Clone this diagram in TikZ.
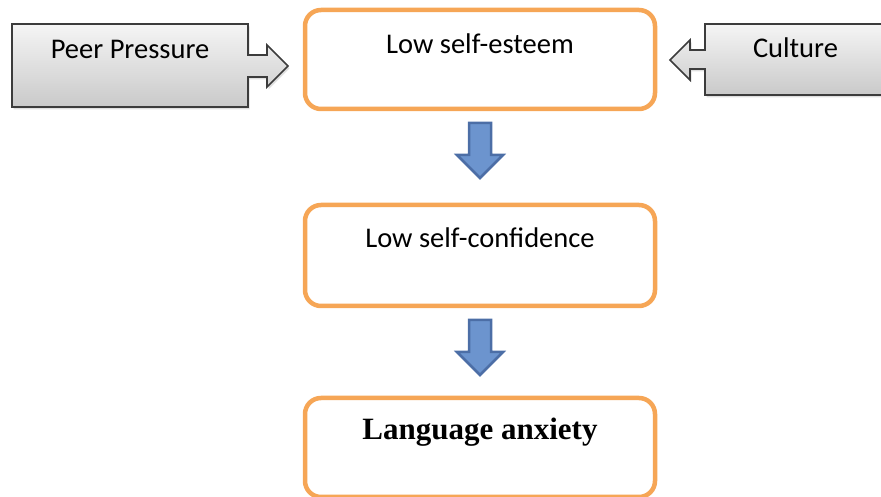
\documentclass[tikz,border=0pt]{standalone}
\usepackage{fontspec}
\setmainfont{Carlito}
\newfontfamily\anxfont{Liberation Serif}
\usetikzlibrary{calc}
\usetikzlibrary{shadows}

\definecolor{boxorange}{RGB}{246,166,86}
\definecolor{arrowblue}{RGB}{108,148,206}
\definecolor{arrowedge}{RGB}{76,110,166}
\definecolor{grayedge}{RGB}{60,60,60}

\tikzset{
 stage/.style={draw=boxorange, line width=4.5pt, rounded corners=16pt, minimum width=350pt, outer sep=0pt, fill=white},
 stagetext/.style={anchor=base, inner sep=0pt, font=\fontsize{28.5}{32}\selectfont},
 downarrow/.style={fill=arrowblue, draw=arrowedge, line width=2.5pt, line join=miter},
 sidebox/.style={draw=grayedge, line width=1.6pt, top color=gray!8, bottom color=gray!42,
   drop shadow={opacity=.25, shadow xshift=1.5pt, shadow yshift=-2.5pt}},
 sidetext/.style={anchor=base, inner sep=0pt, font=\fontsize{28.5}{32}\selectfont}
}

\begin{document}
\begin{tikzpicture}[x=1pt, y=1pt]
\useasboundingbox (0,0) rectangle (881,497);
% the three stages
\node[stage, minimum height=99pt] (esteem) at (480,437.5) {};
\node[stage, minimum height=101pt] (confidence) at (480,241.5) {};
\node[stage, minimum height=99pt] (anxiety) at (480,49.5) {};
\node[stagetext] (esteemtext) at ($(esteem.north)+(0,-44)$) {Low self-esteem};
\node[stagetext] (confidencetext) at ($(confidence.north)+(0,-43)$) {Low self-confidence};
\node[stagetext, font=\fontsize{31}{34}\selectfont\anxfont\bfseries] (anxietytext) at ($(anxiety.north)+(0,-42)$) {Language anxiety};
% block arrows between stages
\foreach \a in {esteem, confidence}
 \draw[downarrow] ($(\a.south)+(-11,-14)$) -- ++(22,0) -- ++(0,-32) -- ++(12,0) -- ++(-23,-23) -- ++(-23,23) -- ++(12,0) -- cycle;
% side causes
\coordinate (peertip) at (288,431);
\coordinate (culturetip) at (670,437);
\draw[sidebox] (12,473) -- (248,473) -- (248,442) -- (267,442) -- (267,452) -- (peertip)
  -- (267,410) -- (267,420) -- (248,420) -- (248,390) -- (12,390) -- cycle;
\node[sidetext] (peer) at (130,438) {Peer Pressure};
\draw[sidebox] (886,473) -- (705,473) -- (705,447) -- (690,447) -- (690,457) -- (culturetip)
  -- (690,417) -- (690,428) -- (705,428) -- (705,402) -- (886,402) -- cycle;
\node[sidetext] (culture) at (795.5,439) {Culture};
\end{tikzpicture}
\end{document}
